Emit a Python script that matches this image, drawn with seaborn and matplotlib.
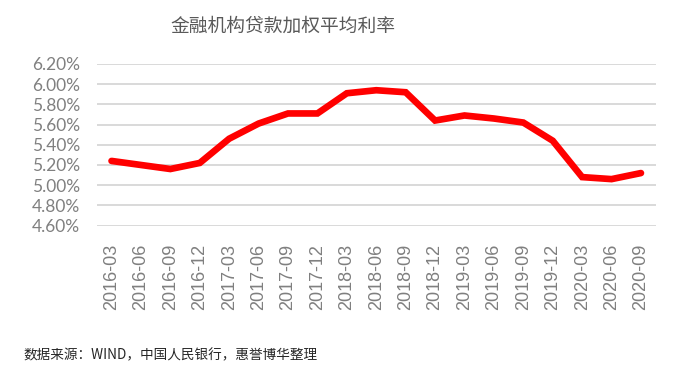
import matplotlib
matplotlib.use("Agg")
import matplotlib.pyplot as plt
import seaborn as sns
import pandas as pd
from matplotlib.ticker import FuncFormatter

periods = ["2016-03", "2016-06", "2016-09", "2016-12", "2017-03", "2017-06", "2017-09",
           "2017-12", "2018-03", "2018-06", "2018-09", "2018-12", "2019-03", "2019-06",
           "2019-09", "2019-12", "2020-03", "2020-06", "2020-09"]
rates = [5.24, 5.20, 5.16, 5.22, 5.46, 5.61, 5.71, 5.71, 5.91, 5.94, 5.92, 5.64,
         5.69, 5.66, 5.62, 5.44, 5.08, 5.06, 5.12]
y_ticks = [4.60, 4.80, 5.00, 5.20, 5.40, 5.60, 5.80, 6.00, 6.20]

title = "金融机构贷款加权平均利率"
source = "数据来源：WIND，中国人民银行，惠誉博华整理"

sns.set_theme(style="white")
plt.rcParams['font.family'] = ['Noto Sans CJK SC', 'DejaVu Sans']

df = pd.DataFrame({"period": periods, "rate": rates})

fig = plt.figure(figsize=(6.77, 3.83), dpi=100)
ax = fig.add_axes([0.143, 0.411, 0.8255, 0.422])

sns.lineplot(data=df, x="period", y="rate", ax=ax, color="#ff0000", linewidth=4.8,
             sort=False, solid_joinstyle="miter")

ax.set_xlim(-0.5, len(periods) - 0.5)
ax.set_ylim(4.6, 6.2)
ax.set_yticks(y_ticks)
ax.yaxis.set_major_formatter(FuncFormatter(lambda v, p: f"{v:.2f}%"))
ax.grid(axis="y", color="#d9d9d9", linewidth=1.4)
ax.grid(axis="x", visible=False)
for s in ax.spines.values():
    s.set_visible(False)
ax.set_xlabel("")
ax.set_ylabel("")
ax.tick_params(axis="y", length=0, pad=12, labelsize=12.5, labelcolor="#808080")
ax.tick_params(axis="x", length=0, pad=13, labelsize=13, labelcolor="#7f7f7f")
for lab in ax.get_yticklabels():
    lab.set_fontfamily("Lato")
for lab in ax.get_xticklabels():
    lab.set_rotation(90)
    lab.set_fontfamily("Liberation Sans")

fig.text(283 / 677, 1 - 26 / 383, title, ha="center", va="center", fontsize=13.5,
         color="#595959")
fig.text(23 / 677, 1 - 355 / 383, source, ha="left", va="center", fontsize=9.8,
         color="#262626")

fig.savefig("out.png", dpi=100)
